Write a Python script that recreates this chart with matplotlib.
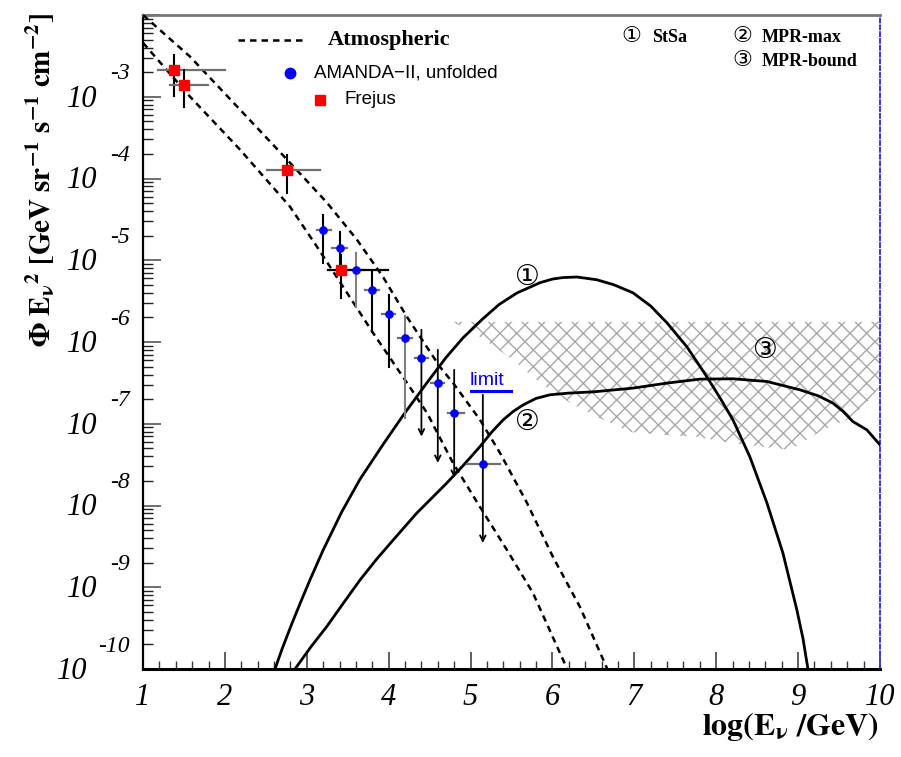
import numpy as np
import matplotlib
matplotlib.use("Agg")
import matplotlib.pyplot as plt

plt.rcParams['mathtext.fontset'] = 'stix'
plt.rcParams['hatch.linewidth'] = 1.0

# ---------------- data (log10 values) ----------------
# Atmospheric band, upper and lower dashed curves: x = log(E/GeV), y = log10(flux)
atm_up_x = [1.0, 1.574, 2.185, 2.795, 3.247, 3.613, 3.930, 4.223, 4.626, 4.785, 5.115, 5.359, 5.689, 6.006, 6.336, 6.67]
atm_up_y = [-2.00, -2.509, -3.158, -3.807, -4.296, -4.749, -5.202, -5.692, -6.304, -6.499, -6.952, -7.356, -7.968, -8.629, -9.241, -10.0]
atm_lo_x = [1.0, 1.574, 2.185, 2.795, 3.125, 3.491, 3.808, 4.223, 4.468, 4.785, 5.115, 5.444, 5.762, 6.18]
atm_lo_y = [-2.34, -2.999, -3.647, -4.345, -4.835, -5.398, -5.887, -6.499, -6.867, -7.479, -8.017, -8.543, -9.070, -10.0]

# Model 1: StSa
stsa_x = [2.612, 2.70, 2.816, 2.93, 3.039, 3.20, 3.426, 3.649, 3.934, 4.178, 4.464, 4.70, 4.907,
          5.151, 5.35, 5.567, 5.847, 6.00, 6.128, 6.30, 6.543, 6.75, 6.983, 7.20, 7.398, 7.642,
          7.886, 8.05, 8.204, 8.411, 8.619, 8.814, 8.985, 9.06, 9.12]
stsa_y = [-10.0, -9.75, -9.45, -9.17, -8.91, -8.545, -8.08, -7.68, -7.25, -6.895, -6.503, -6.19, -5.950,
          -5.715, -5.54, -5.400, -5.275, -5.23, -5.212, -5.205, -5.239, -5.30, -5.398, -5.56, -5.765, -6.059,
          -6.426, -6.69, -6.952, -7.405, -7.968, -8.580, -9.278, -9.63, -10.0]

# Model 2: MPR-max
mpr_x = [2.856, 3.05, 3.243, 3.45, 3.650, 3.85, 4.056, 4.342, 4.708, 4.92, 5.115, 5.26, 5.399, 5.52,
         5.643, 5.80, 5.969, 6.2, 6.498, 6.983, 7.398, 7.801, 8.204, 8.619, 9.022, 9.25, 9.425, 9.55,
         9.669, 9.840, 10.0]
mpr_y = [-10.0, -9.73, -9.482, -9.19, -8.911, -8.66, -8.421, -8.094, -7.727, -7.50, -7.279, -7.10, -6.952, -6.85,
         -6.769, -6.69, -6.646, -6.625, -6.610, -6.564, -6.503, -6.454, -6.450, -6.483, -6.585, -6.66, -6.748, -6.85,
         -6.973, -7.075, -7.258]

# Model 3: MPR-bound (hatched band)
bound_x = [4.785, 5.115, 5.518, 5.847, 6.214, 6.543, 6.946, 7.349, 7.764, 8.167, 8.570, 8.900, 9.303, 9.596, 9.791, 10.0]
bound_lo = [-5.753, -5.936, -6.218, -6.499, -6.744, -6.916, -7.101, -7.136, -7.160, -7.234, -7.283, -7.320, -7.075, -6.952, -6.793, -6.548]
bound_hi = -5.753

# AMANDA-II unfolded
am_x = [3.2, 3.4, 3.6, 3.8, 4.0, 4.2, 4.4, 4.6, 4.8, 5.15]
am_y = [-4.635, -4.856, -5.125, -5.361, -5.663, -5.952, -6.193, -6.503, -6.870, -7.495]
am_y_hi = [-4.443, -4.66, -4.908, -5.137, -5.422, -5.679, -5.851, -6.095, -6.34, -6.646]
am_y_lo = [-5.031, -5.07, -5.566, -5.872, -6.30, -6.928, -7.157, -7.479, -7.662, -8.458]
am_x_lo = [3.12, 3.31, 3.51, 3.71, 3.92, 4.12, 4.32, 4.52, 4.72, 4.96]
am_x_hi = [3.30, 3.49, 3.69, 3.88, 4.08, 4.29, 4.48, 4.68, 4.92, 5.36]
am_limit = [False, False, False, False, False, False, True, True, True, True]

# Frejus
fr_x = [1.378, 1.50, 2.762, 3.414]
fr_y = [-2.668, -2.852, -3.892, -5.116]
fr_y_hi = [-2.485, -2.668, -3.709, -4.93]
fr_y_lo = [-2.995, -3.121, -4.175, -5.459]
fr_x_lo = [1.183, 1.33, 2.51, 3.26]
fr_x_hi = [2.001, 1.79, 3.16, 3.99]

xticks = [1, 2, 3, 4, 5, 6, 7, 8, 9, 10]
ydecades = [-3, -4, -5, -6, -7, -8, -9, -10]

# ---------------- figure ----------------
fig = plt.figure(figsize=(9.01, 7.57), dpi=100)
ax = fig.add_axes([143/901, 1-669/757, 737/901, 654/757])
ax.set_yscale('log')
ax.set_xlim(1, 10)
ax.set_ylim(1e-10, 1e-2)

p = lambda a: np.power(10.0, np.asarray(a, dtype=float))

# hatched MPR-bound region
ax.fill_between(bound_x, p(bound_lo), p([bound_hi]*len(bound_x)), facecolor='none',
                edgecolor='#a8a8a8', hatch='xx', linewidth=0, zorder=1)

# atmospheric band
dash = (0, (2.6, 2.0))
ax.plot(atm_up_x, p(atm_up_y), color='black', lw=1.8, linestyle=dash, zorder=3)
ax.plot(atm_lo_x, p(atm_lo_y), color='black', lw=1.8, linestyle=dash, zorder=3)

# models
ax.plot(stsa_x, p(stsa_y), color='black', lw=2.0, zorder=3)
ax.plot(mpr_x, p(mpr_y), color='black', lw=2.0, zorder=3)

# AMANDA points
for i in range(len(am_x)):
    ax.plot([am_x_lo[i], am_x_hi[i]], [p(am_y[i])]*2, color='#707070', lw=1.6, zorder=4)
    vcol = '#808080' if i in (2, 5) else 'black'
    if am_limit[i]:
        ax.annotate('', xy=(am_x[i], p(am_y_lo[i])), xytext=(am_x[i], p(am_y_hi[i])),
                    arrowprops=dict(arrowstyle='->', color='black', lw=1.3,
                                    mutation_scale=10, shrinkA=0, shrinkB=0), zorder=4)
    else:
        ax.plot([am_x[i]]*2, [p(am_y_lo[i]), p(am_y_hi[i])], color=vcol, lw=1.5, zorder=4)
ax.plot(am_x, p(am_y), 'o', color='#0000ff', ms=5.2, mec='#0000ff', zorder=6, linestyle='none')

# Frejus points
for i in range(len(fr_x)):
    hcol = 'black' if i == 3 else '#707070'
    ax.plot([fr_x_lo[i], fr_x_hi[i]], [p(fr_y[i])]*2, color=hcol, lw=1.6, zorder=5)
    ax.plot([fr_x[i]]*2, [p(fr_y_lo[i]), p(fr_y_hi[i])], color='black', lw=1.5, zorder=5)
ax.plot(fr_x, p(fr_y), 's', color='#ff0000', ms=6.8, mec='#ff0000', zorder=7, linestyle='none')

# "limit" label
ax.text(4.99, p(-6.57), 'limit', color='#0000ff', fontsize=14, family='Liberation Sans',
        ha='left', va='bottom', zorder=8)
ax.plot([5.0, 5.49], [p(-6.60)]*2, color='#0000ff', lw=2.2, zorder=8)

# circled labels on curves
circ_fam = ['Liberation Serif', 'DejaVu Sans', 'Noto Sans CJK JP']
ax.text(5.70, p(-5.225), '\u2460', fontsize=20, family=circ_fam, ha='center', va='center', zorder=8)
ax.text(5.70, p(-7.00), '\u2461', fontsize=20, family=circ_fam, ha='center', va='center', zorder=8)
ax.text(8.60, p(-6.11), '\u2462', fontsize=20, family=circ_fam, ha='center', va='center', zorder=8)

# ---------------- axes styling ----------------
ax.set_xticks(xticks)
ax.set_xticklabels([str(v) for v in xticks], fontsize=22, family='Liberation Serif', style='italic')
ax.set_xticks(np.arange(1, 10.01, 0.2), minor=True)
ax.tick_params(axis='x', which='major', direction='in', length=12, width=1.2, color='#444444',
               pad=10, top=False)
ax.tick_params(axis='x', which='minor', direction='in', length=6, width=1.0, color='#333333', top=False)
ax.tick_params(axis='y', which='major', direction='in', length=13, width=1.2, color='#555555',
               right=False, labelleft=False)
ax.tick_params(axis='y', which='minor', direction='in', length=7, width=1.0, color='#222222', right=False)
ax.yaxis.set_major_locator(matplotlib.ticker.LogLocator(base=10, numticks=20))
ax.yaxis.set_minor_locator(matplotlib.ticker.LogLocator(base=10, subs=np.arange(2, 10), numticks=20))
ax.yaxis.set_minor_formatter(matplotlib.ticker.NullFormatter())

ax.spines['left'].set_linewidth(1.6)
ax.spines['left'].set_color('black')
ax.spines['bottom'].set_linewidth(2.2)
ax.spines['bottom'].set_color('black')
ax.spines['top'].set_linewidth(2.0)
ax.spines['top'].set_color('#777777')
ax.spines['right'].set_linewidth(1.4)
ax.spines['right'].set_color('#3a3ad0')
ax.spines['right'].set_linestyle((0, (2, 1.5)))

# y tick labels drawn ROOT style: "10" with exponent above
ytr = ax.get_yaxis_transform()
for k in ydecades:
    expo = str(k)
    xr10 = -0.0624 if k > -10 else -0.0760
    ax.text(xr10, p(k - 0.03), '10', transform=ytr, ha='right', va='center', fontsize=22,
            family='Liberation Serif', style='italic', clip_on=False)
    ax.text(-0.0176, p(k + 0.28), expo, transform=ytr, ha='right', va='center', fontsize=17,
            family='Liberation Serif', style='italic', clip_on=False)

# axis titles
fig.text(878/901, 1 - 727/757, r'$\mathbf{log(E_{\nu}\ /GeV)}$', fontsize=23,
         ha='right', va='center')
fig.text(40/901, 1 - 180/757,
         r'$\mathbf{\Phi\ E_{\nu}{}^{2}\ [GeV\ sr^{-1}\ s^{-1}\ cm^{-2}]}$',
         fontsize=21, rotation=90, ha='center', va='center')

# legend (manual, ROOT style)
ftr = fig.transFigure
def fx(px): return px / 901
def fy(py): return 1 - py / 757
fig.add_artist(matplotlib.lines.Line2D([fx(238), fx(305)], [fy(40), fy(40)], color='black',
                                       lw=1.8, linestyle=dash, transform=ftr))
fig.text(fx(328), fy(40), 'Atmospheric', fontsize=16, family='Liberation Serif', weight='bold',
         ha='left', va='center')
fig.add_artist(matplotlib.lines.Line2D([fx(290)], [fy(73)], marker='o', color='#0000ff',
                                       ms=7.5, linestyle='none', transform=ftr))
fig.text(fx(314), fy(73), 'AMANDA\u2212II, unfolded', fontsize=13.5, family='Liberation Sans',
         ha='left', va='center')
fig.add_artist(matplotlib.lines.Line2D([fx(320)], [fy(100)], marker='s', color='#ff0000',
                                       ms=7.5, linestyle='none', transform=ftr))
fig.text(fx(344), fy(100), 'Frejus', fontsize=13.5, family='Liberation Sans',
         ha='left', va='center')

# model key (top right)
fig.text(fx(621), fy(37), '\u2460', fontsize=16, family=circ_fam, ha='left', va='center')
fig.text(fx(652), fy(37), 'StSa', fontsize=13, family='Liberation Serif', weight='bold',
         ha='left', va='center')
fig.text(fx(732), fy(37), '\u2461', fontsize=16, family=circ_fam, ha='left', va='center')
fig.text(fx(762), fy(37), 'MPR-max', fontsize=13, family='Liberation Serif', weight='bold',
         ha='left', va='center')
fig.text(fx(732), fy(62), '\u2462', fontsize=16, family=circ_fam, ha='left', va='center')
fig.text(fx(762), fy(62), 'MPR-bound', fontsize=13, family='Liberation Serif', weight='bold',
         ha='left', va='center')

fig.savefig('out.png', dpi=100)
